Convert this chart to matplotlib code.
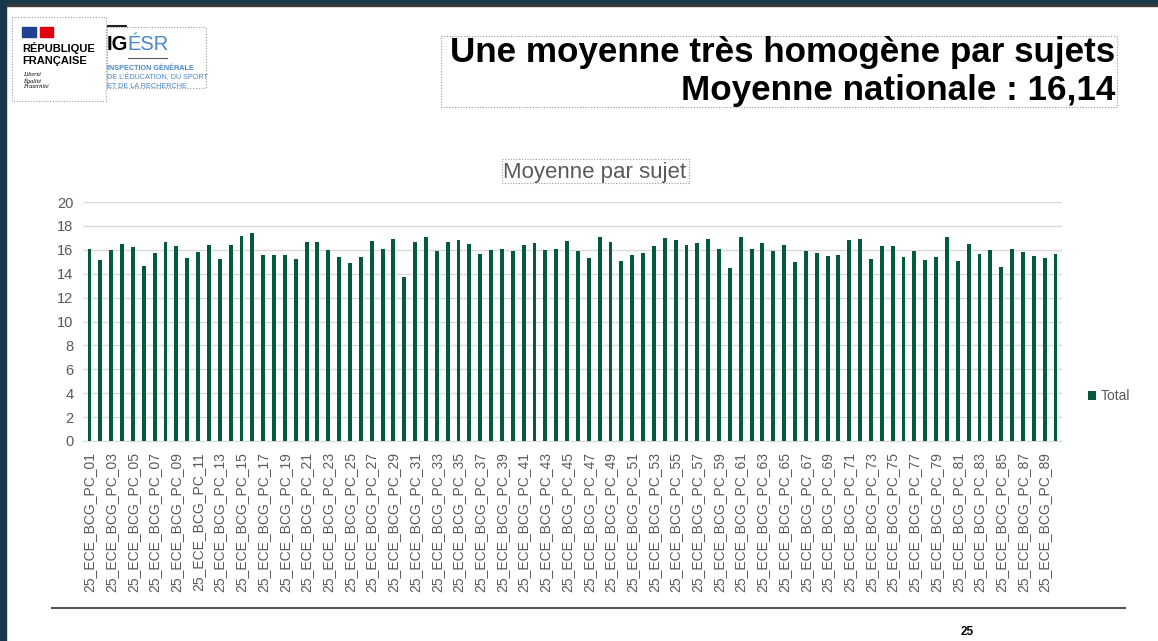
import matplotlib
matplotlib.use("Agg")
import matplotlib.pyplot as plt
from matplotlib.patches import Rectangle

W, H = 1158, 641

# data
sujets = ["25_ECE_BCG_PC_%02d" % i for i in range(1, 91)]
moyennes = [
    16.08, 15.13, 16.00, 16.50, 16.22, 14.66, 15.75, 16.67, 16.34, 15.30,
    15.78, 16.39, 15.27, 16.39, 17.12, 17.40, 15.58, 15.58, 15.55, 15.24,
    16.62, 16.62, 16.00, 15.41, 14.88, 15.36, 16.73, 16.08, 16.90, 13.70,
    16.67, 17.03, 15.89, 16.62, 16.84, 16.48, 15.66, 16.00, 16.06, 15.92,
    16.39, 16.53, 16.00, 16.06, 16.73, 15.89, 15.33, 17.06, 16.62, 15.05,
    15.58, 15.75, 16.34, 17.00, 16.81, 16.42, 16.59, 16.92, 16.03, 14.49,
    17.09, 16.08, 16.59, 15.94, 16.42, 14.97, 15.94, 15.75, 15.50, 15.58,
    16.84, 16.92, 15.24, 16.31, 16.28, 15.41, 15.94, 15.16, 15.36, 17.09,
    15.10, 16.50, 15.66, 15.97, 14.55, 16.08, 15.80, 15.52, 15.33, 15.61,
]
yticks = list(range(0, 21, 2))
serie = "Total"
titre = ["Une moyenne très homogène par sujets", "Moyenne nationale : 16,14"]
titre_graphe = "Moyenne par sujet"
num_page = "25"

GREEN = "#035a3d"
GREY = "#595959"
BLUE = "#4a86c8"
plt.rcParams["font.family"] = ["Liberation Sans", "DejaVu Sans"]

fig = plt.figure(figsize=(W / 100, H / 100), dpi=100)
fig.patch.set_facecolor("white")

# slide overlay in pixel coordinates
bg = fig.add_axes([0, 0, 1, 1], zorder=0)
bg.set_xlim(0, W)
bg.set_ylim(H, 0)
bg.axis("off")

# dark frame of the screenshot
bg.add_patch(Rectangle((0, 0), W, 4, color="#17384a"))
bg.add_patch(Rectangle((0, 4), W, 1.5, color="#3a3a3a"))
bg.add_patch(Rectangle((0, 0), 6, H, color="#17384a"))

def dotted_box(x0, y0, x1, y1):
    bg.add_patch(Rectangle((x0, y0), x1 - x0, y1 - y0, fill=False,
                           ec="#9a9a9a", lw=0.8, ls=(0, (1, 1.5))))

# République française logo
dotted_box(12, 17, 106, 101)
bg.add_patch(Rectangle((22, 27), 14, 10, color="#233f90"))
bg.add_patch(Rectangle((40, 27), 13, 10, color="#e1000f"))
bg.text(22, 48, "RÉPUBLIQUE", fontsize=8, fontweight="bold", va="center")
bg.text(22, 61, "FRANÇAISE", fontsize=8, fontweight="bold", va="center")
for i, mot in enumerate(["Liberté", "Égalité", "Fraternité"]):
    bg.text(23, 74 + 6.5 * i, mot, fontsize=4.5, style="italic",
            family="Liberation Serif", va="center")

# IGÉSR logo
dotted_box(107, 27, 206, 88)
bg.plot([108, 126], [26, 26], color="#222222", lw=1.5)
bg.text(107, 44, "IG", fontsize=14.5, fontweight="bold", va="center")
bg.text(127, 44, "ÉSR", fontsize=14.5, color=BLUE, va="center")
bg.plot([128, 167], [58, 58], color="#555555", lw=0.8)
bg.text(107, 68, "INSPECTION GÉNÉRALE", fontsize=5.2, fontweight="bold",
        color=BLUE, va="center")
bg.text(107, 77, "DE L'ÉDUCATION, DU SPORT", fontsize=5.2, color=BLUE, va="center")
bg.text(107, 86, "ET DE LA RECHERCHE", fontsize=5.2, color=BLUE, va="center")

# slide title
dotted_box(441, 36, 1117, 107)
for ligne, yb in zip(titre, [62, 100]):
    bg.text(1115, yb, ligne, fontsize=25.2, fontweight="bold", ha="right",
            va="baseline")

# chart title
dotted_box(502, 159, 689, 183)
bg.text(595, 178, titre_graphe, fontsize=16, color=GREY, ha="center", va="baseline")

# footer
bg.plot([52, 1125], [608, 608], color="#555555", lw=1.5)
bg.text(967, 632, num_page, fontsize=8.5, fontweight="bold", ha="center", va="center")

# bar chart
ax = fig.add_axes([83 / W, 200 / H, 979 / W, 239 / H], zorder=1)
ax.patch.set_alpha(0)
x = list(range(len(sujets)))
ax.bar(x, moyennes, width=0.36, color=GREEN, label=serie, zorder=3)
ax.set_xlim(-0.6, len(sujets) - 0.4)
ax.set_ylim(0, 20)
ax.set_yticks(yticks)
ax.set_yticklabels([str(v) for v in yticks])
ax.yaxis.grid(True, color="#d9d9d9", lw=1, zorder=0)
for s in ["left", "right", "top"]:
    ax.spines[s].set_visible(False)
ax.spines["bottom"].set_color("#d9d9d9")
ax.tick_params(axis="both", length=0, colors=GREY)
ax.tick_params(axis="y", labelsize=10.5, pad=7)
ax.set_xticks(x[::2])
ax.set_xticklabels(sujets[::2], rotation=90, fontsize=10, color=GREY)
ax.tick_params(axis="x", pad=8)

ax.legend(loc="center left", bbox_to_anchor=(1081 / W, 1 - 396 / H),
          bbox_transform=fig.transFigure, frameon=False, fontsize=10,
          handlelength=0.6, handleheight=0.6, handletextpad=0.3,
          borderpad=0, labelcolor=GREY)

fig.savefig("out.png", dpi=100)
